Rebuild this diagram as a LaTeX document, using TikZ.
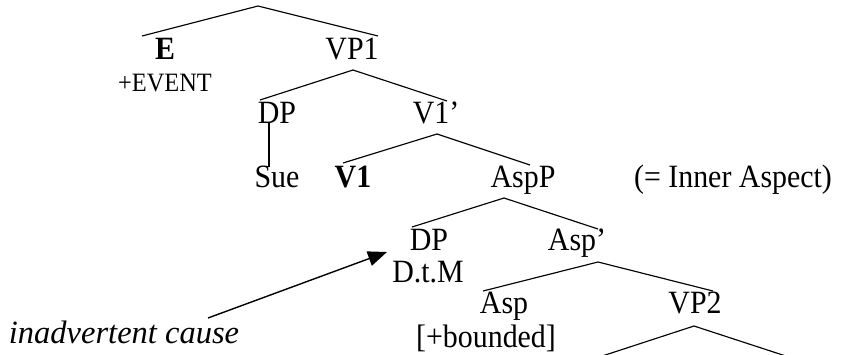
\documentclass[tikz,border=0pt]{standalone}
\usepackage{fontspec}
\setmainfont{Liberation Serif}[FakeStretch=0.92]
\newfontfamily\causefont{Liberation Serif}
\usetikzlibrary{arrows.meta}
\begin{document}
\begin{tikzpicture}[x=1pt,y=-1pt,
  lbl/.style={anchor=base,inner sep=0pt,font=\fontsize{32.5}{38}\selectfont},
  feat/.style={anchor=base,inner sep=0pt,font=\fontsize{26.5}{31}\selectfont},
  note/.style={anchor=base,inner sep=0pt,font=\causefont\itshape\fontsize{32.5}{38}\selectfont},
  branch/.style={line width=1.15pt,line join=miter},
  pointer/.style={line width=1.4pt,-{Triangle[length=19pt,width=15pt]}}]
\useasboundingbox (0,0) rectangle (842,354);
\clip (0,0) rectangle (842,354);

% labels of the tree
\node[lbl] (E)      at (165,59)  {\textbf{E}};
\node[feat] (ev)    at (165,91)  {+EVENT};
\node[lbl] (VP1)    at (352,59)  {VP1};
\node[lbl] (DP1)    at (277,123) {DP};
\node[lbl] (V1bar)  at (436,123) {V1’};
\node[lbl] (Sue)    at (277,187) {Sue};
\node[lbl] (V1)     at (353,187) {\textbf{V1}};
\node[lbl] (AspP)   at (523,187) {AspP};
\node[lbl] (inner)  at (733,187) {(= Inner Aspect)};
\node[lbl] (DP2)    at (429,250) {DP};
\node[lbl] (dtm)    at (428,282) {D.t.M};
\node[lbl] (Aspbar) at (577,250) {Asp’};
\node[lbl] (Asp)    at (504,313) {Asp};
\node[lbl] (bound)  at (486,347) {[+bounded]};
\node[lbl] (VP2)    at (695,313) {VP2};
\node[note] (cause) at (124,343) {inadvertent cause};

% branching points and open ends
\coordinate (top) at (258,6);
\coordinate (VP2l) at (590,360);
\coordinate (VP2r) at (798,360);

% branches
\draw[branch] ([shift={(-23,-23)}]E.base) -- (top) -- ([shift={(26,-23)}]VP1.base);
\draw[branch] ([shift={(-17,-23)}]DP1.base) -- ([shift={(1,11)}]VP1.base) -- ([shift={(11,-22)}]V1bar.base);
\draw[branch] ([shift={(-8,0)}]DP1.base) -- ([shift={(-8,-20)}]Sue.base);
\draw[branch] ([shift={(-10,-24)}]V1.base) -- ([shift={(1,11)}]V1bar.base) -- ([shift={(7,-22)}]AspP.base);
\draw[branch] ([shift={(-17,-23)}]DP2.base) -- ([shift={(-19,11)}]AspP.base) -- ([shift={(21,-21)}]Aspbar.base);
\draw[branch] ([shift={(-21,-22)}]Asp.base) -- ([shift={(21,12)}]Aspbar.base) -- ([shift={(18,-22)}]VP2.base);
\draw[branch] (VP2l) -- ([shift={(-1,13)}]VP2.base) -- (VP2r);

% pointer
\draw[pointer] ([shift={(84,-25)}]cause.base) -- ([shift={(-41,-30)}]dtm.base);
\end{tikzpicture}
\end{document}
